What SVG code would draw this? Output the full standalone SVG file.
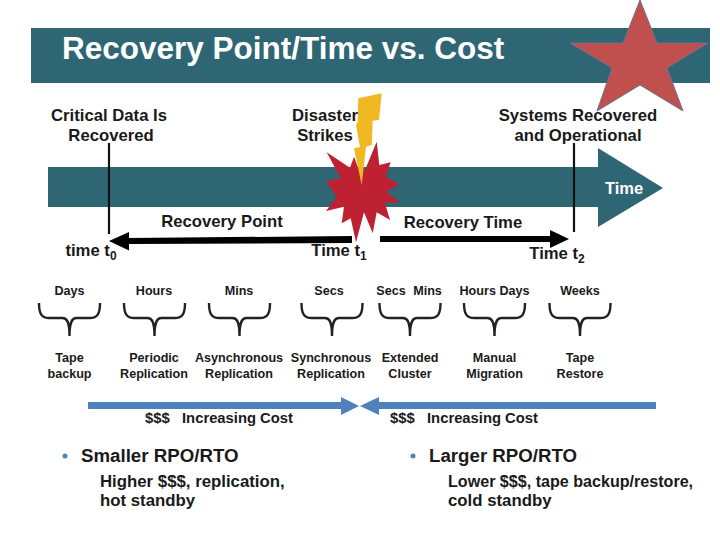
<svg xmlns="http://www.w3.org/2000/svg" width="720" height="540" viewBox="0 0 720 540">
<style>
text{font-family:"Liberation Sans",Arial,sans-serif;font-weight:700;fill:#1a1a1a;text-anchor:middle}
.h{font-size:16.7px}
.s{font-size:12.6px}
.b{fill:none;stroke:#222;stroke-width:2.4}
.c{font-size:14.8px}
.n{font-size:18.7px}
.l{font-size:16.8px}
.st{text-anchor:start}
</style>
<defs>
<path id="brace" d="M-30.500 0C-30.500 11 -28 15 -20 15H-7C-3 15 0 18 0 33C0 18 3 15 7 15H20C28 15 30.500 11 30.500 0" class="b"/>
</defs>
<rect width="720" height="540" fill="#fff"/>
<g id="title"><rect x="31" y="28" width="679" height="55" fill="#2f6674"/>
<text x="62" y="59" style="font-size:31.500px;fill:#fff;text-anchor:start">Recovery Point/Time vs. Cost</text></g>
<g id="timeline"><path d="M48 167H598V148L663 188L598 227V207H48Z" fill="#2f6674"/><text x="624" y="194" style="font-size:16.500px;fill:#fff">Time</text></g>
<g id="connectors">
<path d="M109 143V234M574 143V232" stroke="#111" stroke-width="2.200" fill="none"/>
<path d="M352 236L129 238V232L109 241L129 250.500V244L352 243Z" fill="#000"/>
<path d="M380 236L550 236V230L569 239L550 248V242L380 242Z" fill="#000"/>
<path d="M88 402H341V397L359 406L341 415V409H88Z" fill="#4f81bd"/>
<path d="M656 402H379V397L360 406L379 415V409H656Z" fill="#4f81bd"/>
</g>
<g id="burst"><polygon points="376.700,141.700 379.300,165 390.700,162.300 385.700,176.700 399.300,184.300 386,191.700 400,201.700 385,203.300 390,220 376.700,212.300 372.700,233.300 364,212.300 356,242.300 350.700,218.300 341.700,223.300 344,206.700 326,211 336.700,196.700 326,181 340.700,178.300 326.700,152.300 350,167.700 354,156.700 358.300,168.300 365,170" fill="#bd2132"/></g>
<g id="bolt"><polygon points="358.300,98.300 381.700,93.300 379,120 372.700,120.700 371.700,145 366,146.700 361.700,185 354,148.300 360,147 356,125 357.500,122" fill="#f0b823"/></g>
<g id="star"><polygon points="640,0 657,43 708,43 667,68 683,111 640,85 597,111 612,68 570,43 623,43" fill="#c0504d" stroke="#6f6f91" stroke-width="1"/></g>
<g id="top-labels">
<text x="109" y="121" class="h">Critical Data Is</text><text x="111" y="141" class="h">Recovered</text>
<text x="325" y="121" class="h">Disaster</text><text x="325" y="141" class="h">Strikes</text>
<text x="578" y="121" class="h">Systems Recovered</text><text x="578" y="141" class="h">and Operational</text>
<text x="222" y="227" class="h">Recovery Point</text><text x="463" y="228" class="h">Recovery Time</text>
<text x="91" y="256" class="h">time t<tspan font-size="12" dy="4">0</tspan></text>
<text x="339" y="256" class="h">Time t<tspan font-size="12" dy="4">1</tspan></text>
<text x="557" y="259" class="h">Time t<tspan font-size="12" dy="4">2</tspan></text>
</g>
<g id="col1"><text x="69.500" y="295" class="s">Days</text><use href="#brace" x="69.500" y="303"/><text x="69.500" y="362" class="s">Tape</text><text x="69.500" y="378" class="s">backup</text></g>
<g id="col2"><text x="154" y="295" class="s">Hours</text><use href="#brace" x="154.500" y="303"/><text x="154" y="362" class="s">Periodic</text><text x="154" y="378" class="s">Replication</text></g>
<g id="col3"><text x="239" y="295" class="s">Mins</text><use href="#brace" x="239.500" y="303"/><text x="239" y="362" class="s">Asynchronous</text><text x="239" y="378" class="s">Replication</text></g>
<g id="col4"><text x="329" y="295" class="s">Secs</text><use href="#brace" x="332" y="303"/><text x="331" y="362" class="s">Synchronous</text><text x="331" y="378" class="s">Replication</text></g>
<g id="col5"><text x="391" y="295" class="s">Secs</text><text x="427.500" y="295" class="s">Mins</text><use href="#brace" x="410" y="303"/><text x="410" y="362" class="s">Extended</text><text x="410" y="378" class="s">Cluster</text></g>
<g id="col6"><text x="494.500" y="295" class="s">Hours Days</text><use href="#brace" x="494.500" y="303"/><text x="494.500" y="362" class="s">Manual</text><text x="494.500" y="378" class="s">Migration</text></g>
<g id="col7"><text x="580" y="295" class="s">Weeks</text><use href="#brace" x="580" y="303"/><text x="580" y="362" class="s">Tape</text><text x="580" y="378" class="s">Restore</text></g>
<g id="cost"><text x="145" y="423" class="c st">$$$</text><text x="182" y="423" class="c st">Increasing Cost</text>
<text x="390" y="423" class="c st">$$$</text><text x="427" y="423" class="c st">Increasing Cost</text></g>
<g id="left-note"><circle cx="65" cy="456" r="2.500" fill="#4f81bd"/><text x="81" y="462" class="st n">Smaller RPO/RTO</text>
<text x="100" y="487" class="st l">Higher $$$, replication,</text><text x="100" y="506" class="st l">hot standby</text></g>
<g id="right-note"><circle cx="413" cy="456" r="2.500" fill="#4f81bd"/><text x="429" y="462" class="st n">Larger RPO/RTO</text>
<text x="448" y="487" class="st l" style="font-size:16.100px">Lower $$$, tape backup/restore,</text><text x="448" y="506" class="st l">cold standby</text></g>
</svg>
